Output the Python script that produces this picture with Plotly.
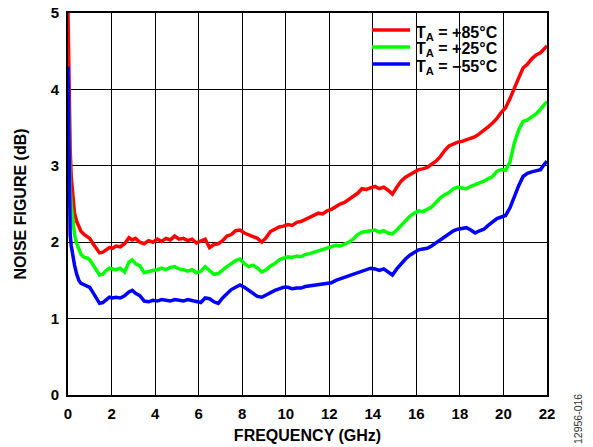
import plotly.graph_objects as go

# Frequency points (GHz), shared by all three curves
freq_ghz = [
    0, 0.03, 0.06, 0.1, 0.15, 0.2, 0.25, 0.3, 0.4, 0.5,
    0.6, 0.75, 0.9, 1.0, 1.15, 1.3, 1.45, 1.6, 1.75, 1.9,
    2.05, 2.2, 2.4, 2.6, 2.8, 2.95, 3.1, 3.3, 3.5, 3.7,
    3.9, 4.1, 4.3, 4.5, 4.7, 4.9, 5.1, 5.3, 5.5, 5.7,
    5.9, 6.1, 6.3, 6.5, 6.7, 6.9, 7.1, 7.3, 7.5, 7.7,
    7.9, 8.1, 8.3, 8.5, 8.7, 8.9, 9.1, 9.3, 9.5, 9.7,
    9.9, 10.1, 10.3, 10.5, 10.7, 10.9, 11.1, 11.3, 11.5, 11.7,
    11.9, 12.1, 12.3, 12.5, 12.7, 12.9, 13.1, 13.3, 13.5, 13.7,
    13.9, 14.1, 14.3, 14.5, 14.7, 14.9, 15.1, 15.3, 15.5, 15.7,
    15.9, 16.1, 16.3, 16.5, 16.7, 16.9, 17.1, 17.3, 17.5, 17.7,
    17.9, 18.1, 18.3, 18.5, 18.7, 18.9, 19.1, 19.3, 19.5, 19.7,
    19.9, 20.1, 20.3, 20.5, 20.7, 20.9, 21.1, 21.3, 21.5, 21.7,
    21.9, 22.0,
]

# Noise figure (dB) at TA = +85°C
nf_85c = [
    5.0, 4.3, 3.7, 3.2, 2.85, 2.65, 2.48, 2.38, 2.27, 2.2,
    2.14, 2.1, 2.07, 2.05, 1.98, 1.92, 1.86, 1.87, 1.9, 1.93,
    1.92, 1.95, 1.94, 1.98, 2.06, 2.03, 2.05, 2.0, 1.98, 2.02,
    2.0, 2.04, 2.01, 2.05, 2.03, 2.08, 2.04, 2.05, 2.02, 2.04,
    1.99, 2.02, 2.04, 1.93, 1.97, 1.98, 2.02, 2.08, 2.1, 2.15,
    2.16, 2.12, 2.1, 2.08, 2.05, 2.0, 2.06, 2.14, 2.17, 2.2,
    2.21, 2.23, 2.22, 2.26, 2.27, 2.3, 2.33, 2.35, 2.38, 2.37,
    2.41, 2.43, 2.47, 2.5, 2.52, 2.56, 2.6, 2.64, 2.7, 2.69,
    2.71, 2.73, 2.7, 2.72, 2.68, 2.63, 2.72, 2.8, 2.85, 2.88,
    2.92, 2.95, 2.96, 2.98, 3.02, 3.06, 3.12, 3.2, 3.26, 3.29,
    3.31, 3.32, 3.34, 3.36, 3.38, 3.42, 3.46, 3.51, 3.56, 3.62,
    3.7, 3.76, 3.88, 4.03, 4.15, 4.28, 4.33, 4.4, 4.45, 4.48,
    4.54, 4.57,
]

# Noise figure (dB) at TA = +25°C
nf_25c = [
    4.1, 3.5, 3.0, 2.7, 2.48, 2.33, 2.2, 2.1, 1.98, 1.9,
    1.84, 1.8, 1.79, 1.77, 1.7, 1.63, 1.57, 1.58, 1.63, 1.66,
    1.65, 1.64, 1.66, 1.61, 1.74, 1.77, 1.72, 1.69, 1.6, 1.62,
    1.63, 1.64, 1.66, 1.64, 1.67, 1.68, 1.65, 1.64, 1.62, 1.64,
    1.6, 1.62, 1.68, 1.63, 1.58, 1.59, 1.64, 1.68, 1.72, 1.76,
    1.78, 1.72, 1.68, 1.7, 1.66, 1.61, 1.64, 1.69, 1.72, 1.77,
    1.79, 1.81, 1.8, 1.82, 1.81, 1.84, 1.85, 1.87, 1.89, 1.9,
    1.93, 1.94, 1.96, 1.95, 1.97, 2.0, 2.04, 2.1, 2.13, 2.14,
    2.15, 2.16, 2.13, 2.15, 2.12, 2.11, 2.16, 2.22, 2.29, 2.34,
    2.38, 2.41, 2.4, 2.43, 2.46, 2.52, 2.58, 2.62, 2.65, 2.7,
    2.72, 2.71, 2.7, 2.73, 2.75, 2.77, 2.8, 2.83, 2.86, 2.93,
    2.95, 2.94, 3.05, 3.3, 3.47, 3.58, 3.6, 3.64, 3.68, 3.74,
    3.8, 3.84,
]

# Noise figure (dB) at TA = -55°C
nf_m55c = [
    4.3, 3.5, 2.7, 2.1, 1.95, 1.85, 1.77, 1.7, 1.58, 1.5,
    1.46, 1.44, 1.43, 1.41, 1.34, 1.27, 1.2, 1.21, 1.25, 1.28,
    1.27, 1.28, 1.27, 1.3, 1.35, 1.37, 1.33, 1.3, 1.23, 1.22,
    1.24, 1.23, 1.25, 1.24, 1.23, 1.25, 1.24, 1.23, 1.25, 1.24,
    1.23, 1.21, 1.27, 1.26, 1.22, 1.2, 1.27, 1.33, 1.38, 1.41,
    1.44, 1.41, 1.37, 1.33, 1.29, 1.28, 1.31, 1.35, 1.37, 1.39,
    1.41, 1.41, 1.39, 1.4, 1.4, 1.42, 1.43, 1.44, 1.44, 1.45,
    1.46, 1.47, 1.5, 1.52, 1.55, 1.57, 1.59, 1.61, 1.63, 1.64,
    1.66, 1.65, 1.63, 1.65, 1.61, 1.57, 1.65, 1.72, 1.78, 1.83,
    1.87, 1.9, 1.91, 1.92, 1.95, 1.99, 2.03, 2.07, 2.12, 2.15,
    2.17, 2.18, 2.19, 2.16, 2.12, 2.15, 2.17, 2.22, 2.27, 2.31,
    2.33, 2.35, 2.45, 2.6, 2.74, 2.86, 2.9, 2.92, 2.93, 2.95,
    3.03, 3.06,
]

series_names = ["T<sub>A</sub> = +85°C", "T<sub>A</sub> = +25°C", "T<sub>A</sub> = \u221255°C"]
series_values = [nf_85c, nf_25c, nf_m55c]
series_colors = ["#ff0000", "#00ff00", "#0000ff"]

x_ticks = list(range(0, 23, 2))
y_ticks = [0, 1, 2, 3, 4, 5]

FONT = "Arial, 'Liberation Sans', sans-serif"
LINE_W = 3.5

fig = go.Figure()
for name, vals, col in zip(series_names, series_values, series_colors):
    fig.add_trace(go.Scatter(
        x=freq_ghz, y=vals, mode="lines", name=name, showlegend=False,
        line=dict(color=col, width=LINE_W),
    ))

axis_common = dict(
    showgrid=True, gridcolor="#000000", gridwidth=1,
    showline=True, linecolor="#000000", linewidth=2, mirror=True,
    zeroline=False, ticks="", automargin=False,
    tickfont=dict(family=FONT, size=15, color="#000000", weight="bold"),
)

fig.update_xaxes(
    range=[0, 22], tickvals=x_ticks, ticktext=[str(t) for t in x_ticks],
    ticklabelstandoff=4,
    title=dict(text="<b>FREQUENCY (GHz)</b>", font=dict(family=FONT, size=16, color="#000000"), standoff=9),
    **axis_common,
)
fig.update_yaxes(
    range=[0, 5], tickvals=y_ticks, ticktext=[str(t) for t in y_ticks],
    ticklabelstandoff=4,
    title=dict(text="<b>NOISE FIGURE (dB)</b>", font=dict(family=FONT, size=16, color="#000000"), standoff=20),
    **axis_common,
)

# Plot-area geometry in pixels, used to place the key in paper units
PX_L, PX_R, PX_T, PX_B = 68, 547, 13, 395


def px_x(px):
    return (px - PX_L) / (PX_R - PX_L)


def px_y(py):
    return (PX_B - py) / (PX_B - PX_T)


# Key: white panel over the grid, coloured line swatches and labels
shapes = [dict(
    type="rect", xref="paper", yref="paper", layer="between",
    x0=px_x(360), x1=px_x(546), y0=px_y(80), y1=px_y(15),
    fillcolor="#ffffff", line=dict(width=0),
)]
annotations = []
key_rows_py = [30, 47, 64]
for name, col, py in zip(series_names, series_colors, key_rows_py):
    shapes.append(dict(
        type="line", xref="paper", yref="paper", layer="above",
        x0=px_x(372), x1=px_x(410), y0=px_y(py), y1=px_y(py),
        line=dict(color=col, width=LINE_W),
    ))
    annotations.append(dict(
        text="<b>" + name + "</b>", xref="paper", yref="paper",
        x=px_x(414), y=px_y(py + 3), xanchor="left", yanchor="middle",
        showarrow=False, font=dict(family=FONT, size=16, color="#000000"),
    ))

annotations.append(dict(
    text="12956-016", xref="paper", yref="paper",
    x=px_x(578), y=px_y(419),
    xanchor="center", yanchor="middle", textangle=-90, showarrow=False,
    font=dict(family=FONT, size=10.5, color="#333333"),
))

fig.update_layout(
    width=593, height=447,
    margin=dict(l=PX_L, r=593 - PX_R, t=PX_T, b=447 - PX_B),
    paper_bgcolor="#ffffff", plot_bgcolor="#ffffff",
    showlegend=False,
    shapes=shapes,
    annotations=annotations,
)

fig.write_html("out.html")
